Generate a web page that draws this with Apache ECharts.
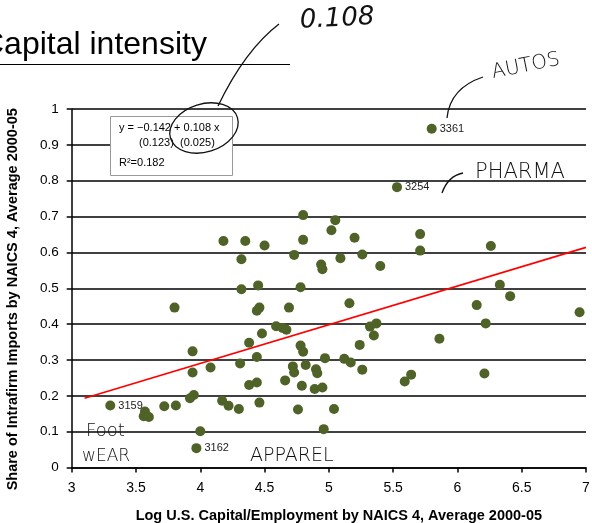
<!DOCTYPE html>
<html>
<head>
<meta charset="utf-8">
<script src="https://cdn.jsdelivr.net/npm/echarts@6/dist/echarts.min.js"></script>
<style>
html,body{margin:0;padding:0;background:#fff;}
#chart{width:592px;height:523px;}
</style>
</head>
<body>
<div id="chart"></div>
<script>
// Log U.S. capital / employment (x) and share of intrafirm imports (y), NAICS 4 industries
var capitalLog = [5.80,5.53,4.80,5.05,5.02,4.80,5.20,5.71,5.71,6.26,5.09,5.26,4.94,4.95,5.40,4.18,4.35,4.50,4.32,4.73,4.32,4.45,4.78,6.33,6.41,5.16,6.15,6.22,6.95,5.32,5.37,5.35,5.86,5.24,3.80,4.46,4.44,4.69,4.59,4.64,4.67,4.48,4.38,4.78,4.80,3.94,4.44,4.08,4.31,3.94,4.72,4.73,4.82,4.90,4.91,4.97,5.12,5.17,5.26,5.64,5.59,6.21,4.66,4.38,4.44,4.79,4.89,4.95,3.95,3.92,4.17,4.22,4.46,4.30,3.30,3.72,3.81,3.57,3.56,3.60,4.76,5.04,4.00,3.97,4.96];
var intrafirmShare = [0.945,0.782,0.704,0.690,0.662,0.635,0.641,0.651,0.605,0.618,0.584,0.594,0.566,0.553,0.562,0.632,0.632,0.619,0.581,0.593,0.497,0.508,0.503,0.510,0.478,0.458,0.453,0.402,0.433,0.393,0.402,0.368,0.359,0.342,0.446,0.446,0.437,0.446,0.394,0.389,0.384,0.374,0.348,0.340,0.323,0.324,0.308,0.279,0.290,0.265,0.282,0.265,0.286,0.274,0.263,0.305,0.303,0.293,0.273,0.259,0.240,0.262,0.243,0.230,0.237,0.228,0.219,0.223,0.202,0.193,0.186,0.172,0.181,0.163,0.173,0.171,0.173,0.156,0.143,0.141,0.162,0.163,0.101,0.054,0.107];
var naicsCodes = {0:'3361',1:'3254',74:'3159',83:'3162'};
// fitted line endpoints
var fitX = [3.1, 7.0];
var fitY = [0.193, 0.614];
var xTicks = [3,3.5,4,4.5,5,5.5,6,6.5,7];
var yTicks = [0,0.1,0.2,0.3,0.4,0.5,0.6,0.7,0.8,0.9,1];

var chart = echarts.init(document.getElementById('chart'), null, {renderer:'canvas'});

var pts = capitalLog.map(function(x,i){
  var d = {value:[x, intrafirmShare[i]]};
  if (naicsCodes[i]) {
    d.label = {show:true, formatter: naicsCodes[i]};
  }
  return d;
});

var handFont = function(sz){ return '300 ' + sz + 'px "DejaVu Sans", sans-serif'; };

chart.setOption({
  animation:false,
  grid:{left:71.7, right:6, top:109, bottom:55.5, containLabel:false, outerBoundsMode:'none'},
  xAxis:{
    type:'value', min:3, max:7, interval:0.5,
    axisLine:{show:true, onZero:false, lineStyle:{color:'#000', width:1.5}},
    axisTick:{show:true, inside:false, length:5, lineStyle:{color:'#000', width:1.5}},
    axisLabel:{color:'#000', fontSize:14, fontFamily:'Liberation Sans, Arial', margin:14,
      formatter:function(v){return String(v);}},
    splitLine:{show:false},
    name:'Log U.S. Capital/Employment by NAICS 4, Average 2000-05',
    nameLocation:'middle', nameGap:41,
    nameTextStyle:{fontWeight:'bold', fontSize:14.5, color:'#000', fontFamily:'Liberation Sans, Arial', padding:[0,0,0,20]}
  },
  yAxis:{
    type:'value', min:0, max:1, interval:0.1,
    axisLine:{show:true, lineStyle:{color:'#000', width:1.5}},
    axisTick:{show:true, inside:false, length:5, lineStyle:{color:'#000', width:1.5}},
    axisLabel:{color:'#000', fontSize:13.5, fontFamily:'Liberation Sans, Arial', margin:13,
      formatter:function(v){return String(Math.round(v*10)/10);}},
    splitLine:{show:true, lineStyle:{color:'#000', width:1.5}},
    name:'Share of Intrafirm Imports by NAICS 4, Average 2000-05',
    nameLocation:'middle', nameGap:51,
    nameTextStyle:{fontWeight:'bold', fontSize:14.5, color:'#000', fontFamily:'Liberation Sans, Arial', padding:[0,0,0,-22]}
  },
  series:[
    {
      type:'line',
      data: fitX.map(function(x,i){return [x, fitY[i]];}),
      symbol:'none',
      lineStyle:{color:'#ff0000', width:1.6},
      z:3
    },
    {
      type:'scatter',
      data: pts,
      symbolSize:10,
      itemStyle:{color:'#4F6228', opacity:1},
      label:{show:false, position:'right', distance:3, color:'#222', fontSize:11, fontFamily:'Liberation Sans, Arial'},
      z:4
    }
  ],
  graphic:[
    {type:'text', x:-19, y:61, z:100,
     style:{text:'Capital intensity', font:'32px "Liberation Sans", Arial', fill:'#000', textVerticalAlign:'bottom'}},
    {type:'line', z:100, shape:{x1:0,y1:64.5,x2:290,y2:64.5}, style:{stroke:'#000', lineWidth:1}},
    {type:'rect', z:100, shape:{x:110.5,y:116.5,width:122,height:59}, style:{fill:'#fff', stroke:'#999', lineWidth:1}},
    {type:'text', z:101, x:119, y:128, style:{text:'y = \u22120.142 + 0.108 x', font:'11px "Liberation Sans", Arial', fill:'#000', textVerticalAlign:'middle'}},
    {type:'text', z:101, x:139, y:142.5, style:{text:'(0.123)  (0.025)', font:'11px "Liberation Sans", Arial', fill:'#000', textVerticalAlign:'middle'}},
    {type:'text', z:101, x:119, y:162.5, style:{text:'R\u00b2=0.182', font:'11px "Liberation Sans", Arial', fill:'#000', textVerticalAlign:'middle'}},
    {type:'ellipse', z:102, x:204, y:128, rotation:0.3, shape:{cx:0,cy:0,rx:35,ry:24}, style:{fill:'none', stroke:'#111', lineWidth:1.3}},
    {type:'bezierCurve', z:102, shape:{x1:279,y1:24,x2:218,y2:106,cpx1:245,cpy1:50}, style:{fill:'none', stroke:'#111', lineWidth:1.3}},
    {type:'text', z:102, x:300, y:21, rotation:0.05, style:{text:'0.108', font:'italic ' + handFont(26), fill:'#111', textVerticalAlign:'middle'}},
    {type:'bezierCurve', z:102, shape:{x1:483,y1:77,x2:447,y2:118,cpx1:450,cpy1:88}, style:{fill:'none', stroke:'#111', lineWidth:1.3}},
    {type:'text', z:102, x:492, y:73, rotation:0.2, style:{text:'AUTOS', font:handFont(20), fill:'#111', textVerticalAlign:'middle'}},
    {type:'bezierCurve', z:102, shape:{x1:463,y1:173,x2:442,y2:193,cpx1:448,cpy1:176}, style:{fill:'none', stroke:'#111', lineWidth:1.3}},
    {type:'text', z:102, x:475, y:173, style:{text:'PHARMA', font:handFont(21), fill:'#111', textVerticalAlign:'middle'}},
    {type:'text', z:102, x:86, y:431, style:{text:'Foot', font:handFont(18), fill:'#111', textVerticalAlign:'middle'}},
    {type:'text', z:102, x:82, y:457, style:{text:'wEAR', font:handFont(17), fill:'#111', textVerticalAlign:'middle'}},
    {type:'text', z:102, x:250, y:456, style:{text:'APPAREL', font:handFont(19), fill:'#111', textVerticalAlign:'middle'}}
  ]
});
</script>
</body>
</html>
